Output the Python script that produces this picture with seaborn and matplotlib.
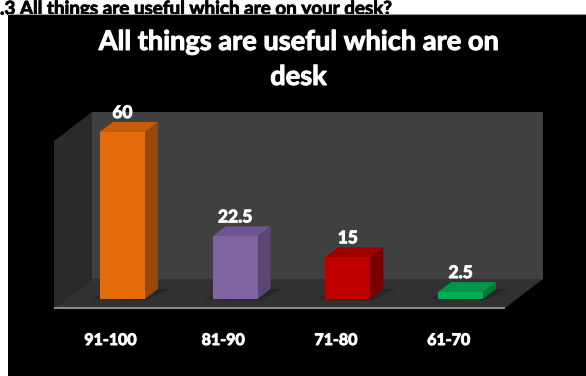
import numpy as np
import pandas as pd
import matplotlib
matplotlib.use("Agg")
import matplotlib.pyplot as plt
import matplotlib.patheffects as pe
import seaborn as sns
from matplotlib.patches import Polygon, Rectangle

categories = ["91-100", "81-90", "71-80", "61-70"]
values = [60, 22.5, 15, 2.5]
value_labels = ["60", "22.5", "15", "2.5"]
front_colors = ["#E46C0A", "#8064A2", "#C00000", "#00B050"]
side_colors = ["#984807", "#5B4676", "#7A0000", "#007A36"]
top_colors = ["#C45C08", "#6C5590", "#A00000", "#00954A"]
title_lines = ["All things are useful which are on", "desk"]
header = ".3 All things are useful which are on your desk?"

sns.set_theme(style="white")
plt.rcParams["font.family"] = ["Lato", "DejaVu Sans"]
WEIGHT = "bold"
white_fx = [pe.withStroke(linewidth=0.7, foreground="white")]

W, H = 586, 376
fig = plt.figure(figsize=(W / 100, H / 100), dpi=100)
fig.patch.set_facecolor("white")


def fx(px):
    return px / W


def fy(py):
    return 1 - py / H


renderer = fig.canvas.get_renderer()


def fit(t, target):
    w = t.get_window_extent(renderer).width
    t.set_fontsize(t.get_fontsize() * target / w)


# header text above the panel
ht = fig.text(fx(0), fy(0.5), header, ha="left", va="top", fontsize=12,
              fontweight=WEIGHT, color="black", zorder=-10,
              path_effects=[pe.withStroke(linewidth=0.6, foreground="black")])
fit(ht, 390)
hb = ht.get_window_extent(renderer)
panel_top = H - hb.y0 - 3.5

# black chart panel
fig.patches.append(Rectangle((fx(7.5), 0), 1 - fx(7.5), fy(panel_top), transform=fig.transFigure,
                             facecolor="black", edgecolor="none", zorder=-5))
fig.lines.append(plt.Line2D([fx(7.5), 1], [fy(panel_top + 0.3), fy(panel_top + 0.3)],
                            transform=fig.transFigure, color="#9a9a9a", lw=0.8, zorder=-4))

# axes in the bars' front plane
ax = fig.add_axes([fx(66), fy(299), (517 - 66) / W, (299 - 132) / H])
ax.set_zorder(1)
df = pd.DataFrame({"cat": categories, "val": values})
sns.barplot(data=df, x="cat", y="val", hue="cat", palette=front_colors, legend=False,
            width=0.4, saturation=1, ax=ax, zorder=5)
ax.set_xlim(-0.5, 3.5)
ax.set_ylim(0, 60)
ax.axis("off")

p0 = ax.transData.transform((0, 0))
p1 = ax.transData.transform((1, 1))
sx, sy = p1[0] - p0[0], p1[1] - p0[1]


def d(dx, dy):
    return np.array([dx / sx, dy / sy])


front = d(-12, -9)
back = d(26, 20)
depth = d(13, 10)
x0, x1, ytop = -0.5, 3.5, 60

# back wall
bw = [np.array(p) + back for p in [(x0, 0), (x1, 0), (x1, ytop), (x0, ytop)]]
ax.add_patch(Polygon(bw, closed=True, facecolor="#404040", edgecolor="none", zorder=1, clip_on=False))
# side wall
sw = [np.array((x0, 0)) + front, np.array((x0, 0)) + back,
      np.array((x0, ytop)) + back, np.array((x0, ytop)) + front]
ax.add_patch(Polygon(sw, closed=True, facecolor="#2a2a2a", edgecolor="none", zorder=1, clip_on=False))
# floor
fl = [np.array((x0, 0)) + front, np.array((x1, 0)) + front,
      np.array((x1, 0)) + back, np.array((x0, 0)) + back]
ax.add_patch(Polygon(fl, closed=True, facecolor="#313131", edgecolor="none", zorder=2, clip_on=False))
fe = [np.array((x0, 0)) + front, np.array((x1, 0)) + front]
ax.plot([fe[0][0], fe[1][0]], [fe[0][1], fe[1][1]], color="#8c8c8c", lw=1.5, zorder=3,
        clip_on=False, solid_capstyle="butt")

# 3D faces for each bar
for i, p in enumerate(ax.patches[:len(values)]):
    bx0 = p.get_x()
    bw_ = p.get_width()
    h = p.get_height()
    bx1 = bx0 + bw_
    sh = [np.array((bx0, 0)) + d(-8, 0), np.array((bx1, 0)) + d(2, -1),
          np.array((bx1, 0)) + depth + d(12, 0), np.array((bx0, 0)) + depth]
    ax.add_patch(Polygon(sh, closed=True, facecolor="#262626", edgecolor="none", zorder=3, clip_on=False))
    side = [np.array((bx1, 0)), np.array((bx1, h)), np.array((bx1, h)) + depth, np.array((bx1, 0)) + depth]
    ax.add_patch(Polygon(side, closed=True, facecolor=side_colors[i], edgecolor="none", zorder=4, clip_on=False))
    top = [np.array((bx0, h)), np.array((bx1, h)), np.array((bx1, h)) + depth, np.array((bx0, h)) + depth]
    ax.add_patch(Polygon(top, closed=True, facecolor=top_colors[i], edgecolor="none", zorder=4, clip_on=False))
    p.set_edgecolor("none")
    ax.annotate(value_labels[i], (bx0 + bw_ / 2, h), xytext=(0, 19 * 0.72), textcoords="offset points",
                ha="center", va="center", color="white", fontsize=12.5, fontweight=WEIGHT, zorder=6,
                path_effects=white_fx)

# category labels at the floor's front plane
for i, cat in enumerate(categories):
    pos = np.array((i, 0)) + d(-12, -42)
    ax.text(pos[0], pos[1], cat, ha="center", va="center", color="white", fontsize=11.5,
            fontweight=WEIGHT, clip_on=False, path_effects=white_fx)

# title
t1 = fig.text(fx(298.5), fy(42), title_lines[0], ha="center", va="center", color="white",
              fontsize=17, fontweight=WEIGHT, zorder=5, path_effects=white_fx)
fit(t1, 401)
fig.text(fx(298.5), fy(77), title_lines[1], ha="center", va="center", color="white",
         fontsize=t1.get_fontsize(), fontweight=WEIGHT, zorder=5, path_effects=white_fx)

fig.savefig("out.png", dpi=100, facecolor=fig.get_facecolor())
